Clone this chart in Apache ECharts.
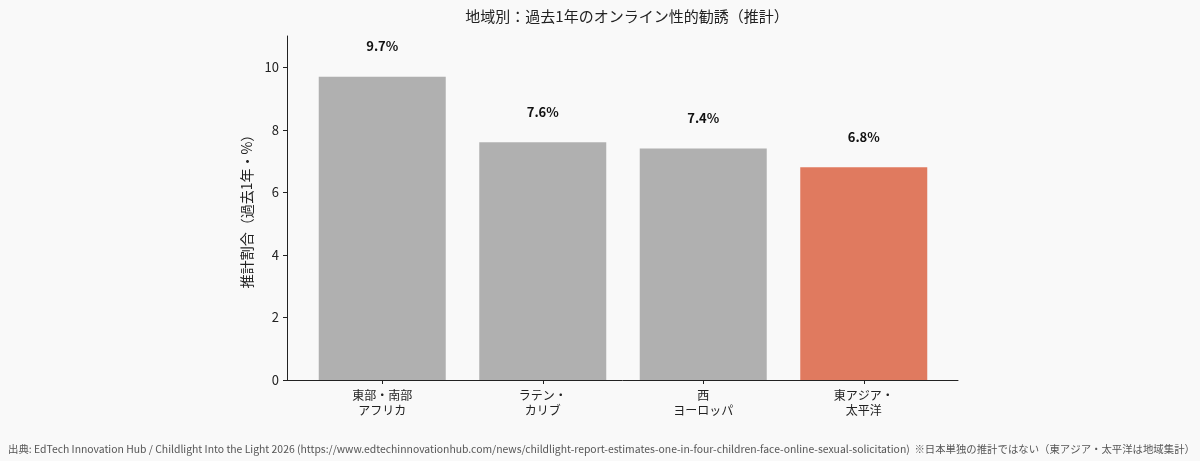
<!DOCTYPE html>
<html>
<head>
<meta charset="utf-8">
<script src="https://cdn.jsdelivr.net/npm/echarts@6/dist/echarts.min.js"></script>
<style>
  html, body { margin: 0; padding: 0; background: #f9f9f9; }
  #chart { width: 1200px; height: 461px; }
</style>
</head>
<body>
<div id="chart"></div>
<script>
var regions = ['東部・南部\nアフリカ', 'ラテン・\nカリブ', '西\nヨーロッパ', '東アジア・\n太平洋'];
var rates = [9.7, 7.6, 7.4, 6.8];
var barColors = ['#b0b0b0', '#b0b0b0', '#b0b0b0', '#e07a5f'];

var FONT = '"Noto Sans CJK JP", "Noto Sans", sans-serif';

var myChart = echarts.init(document.getElementById('chart'));

var barData = [];
for (var i = 0; i < rates.length; i++) {
  barData.push({ value: rates[i], itemStyle: { color: barColors[i] } });
}

var option = {
  animation: false,
  backgroundColor: '#f9f9f9',
  textStyle: { fontFamily: FONT },
  title: [
    {
      // centred over the plot area, not the page
      text: '地域別：過去1年のオンライン性的勧誘（推計）',
      left: 622,
      textAlign: 'center',
      top: 4,
      textStyle: { fontSize: 15, fontWeight: 'normal', color: '#222', fontFamily: FONT }
    },
    {
      text: '出典: EdTech Innovation Hub / Childlight Into the Light 2026 (https://www.edtechinnovationhub.com/news/childlight-report-estimates-one-in-four-children-face-online-sexual-solicitation)  ※日本単独の推計ではない（東アジア・太平洋は地域集計）',
      left: 3,
      top: 439,
      textStyle: { fontSize: 10.4, fontWeight: 'normal', color: '#555', fontFamily: FONT }
    }
  ],
  grid: [
    // bars sit in this one
    { left: 302, right: 256, top: 36, bottom: 81 },
    // axis lines span a little wider, like the matplotlib margins
    { left: 287, right: 242, top: 36, bottom: 81 }
  ],
  xAxis: [
    {
      gridIndex: 0,
      type: 'category',
      data: regions,
      axisLine: { show: false },
      axisTick: { show: true, alignWithLabel: true, length: 4, lineStyle: { color: '#222' } },
      axisLabel: { color: '#222', fontSize: 12, lineHeight: 15, margin: 8, fontFamily: FONT }
    },
    {
      gridIndex: 1,
      type: 'value',
      min: 0,
      max: 1,
      axisLine: { show: true, lineStyle: { color: '#222', width: 1 } },
      axisTick: { show: false },
      axisLabel: { show: false },
      splitLine: { show: false }
    }
  ],
  yAxis: [
    {
      gridIndex: 0,
      type: 'value',
      min: 0,
      max: 11,
      interval: 2,
      show: false
    },
    {
      gridIndex: 1,
      type: 'value',
      min: 0,
      max: 11,
      interval: 2,
      name: '推計割合（過去1年・%）',
      nameLocation: 'middle',
      nameGap: 33,
      nameRotate: 90,
      nameTextStyle: { color: '#222', fontSize: 14, fontFamily: FONT },
      axisLine: { show: true, lineStyle: { color: '#222', width: 1 } },
      axisTick: { show: true, length: 4, lineStyle: { color: '#222' } },
      axisLabel: {
        color: '#222',
        fontSize: 13,
        margin: 8,
        showMaxLabel: false,
        formatter: function (v) { return v > 10 ? '' : v; }
      },
      splitLine: { show: false }
    }
  ],
  series: [
    {
      name: '推計割合',
      type: 'bar',
      xAxisIndex: 0,
      yAxisIndex: 0,
      barWidth: 127,
      data: barData,
      label: {
        show: true,
        position: 'top',
        distance: 24,
        color: '#111',
        fontSize: 13,
        fontWeight: 'bold',
        fontFamily: FONT,
        formatter: function (p) { return p.value.toFixed(1) + '%'; }
      }
    }
  ]
};

myChart.setOption(option);
</script>
</body>
</html>
